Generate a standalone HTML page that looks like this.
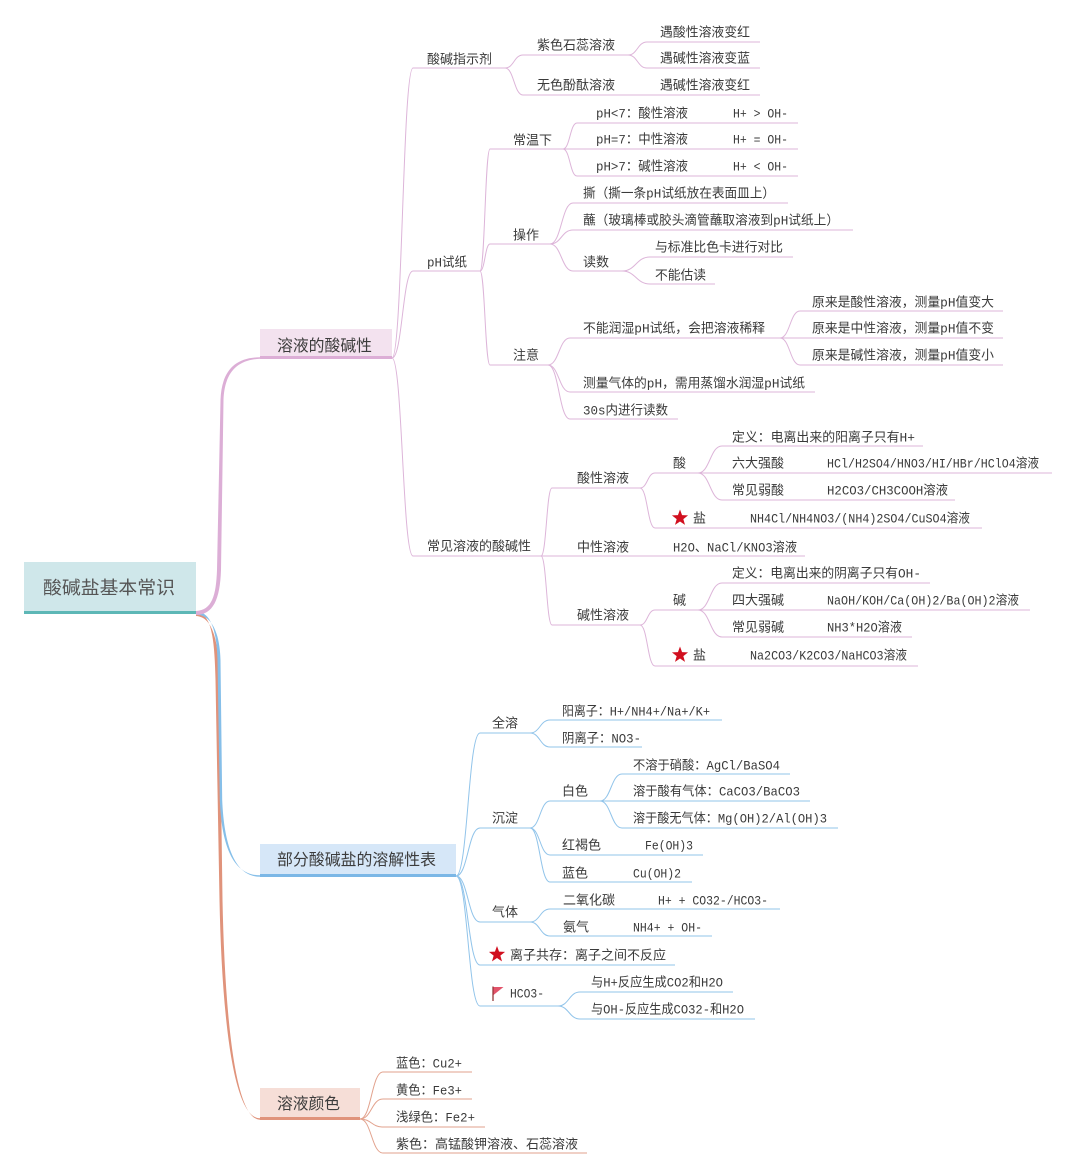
<!DOCTYPE html>
<html><head><meta charset="utf-8">
<style>
html,body{margin:0;padding:0;background:#fff;}
svg{display:block;}
text{font-family:"Liberation Mono","Noto Sans CJK SC",monospace;font-size:13px;fill:#3a3a3a;}
.bx{font-family:"Liberation Sans","Noto Sans CJK SC",sans-serif;font-size:16px;fill:#3c3c3c;}
.pk{stroke:#ddb5d9;stroke-width:1;fill:none;}
.bl{stroke:#91c4ea;stroke-width:1;fill:none;}
.or{stroke:#e2a28d;stroke-width:1;fill:none;}
</style></head>
<body>
<svg width="1073" height="1175" viewBox="0 0 1073 1175" xmlns="http://www.w3.org/2000/svg">
<rect width="1073" height="1175" fill="#fff"/>

<!-- root tapered connectors -->
<path d="M196,612 C212,613 214.5,640 215.5,680 L219.5,900 C221.5,1001 231,1118.3 260,1118.3 L260,1119.7 C233,1119.7 224.5,999 222.5,900 L219.5,680 C218.5,638 212,617 196,616 Z" fill="#e0937b"/>
<path d="M196,611.5 C211,612 216.5,630 217.5,660 L219.8,800 C221.8,851 235.5,875.3 260,875.3 L260,876.7 C236.5,876.8 224.2,849 222.2,800 L220.5,660 C219.5,629 210,615 196,614.5 Z" fill="#86bfe9"/>
<path d="M196,611 C212,610 216,596 217,570 L220.5,400 C221.5,371 235,357.3 260,357.3 L260,358.7 C236.5,360 224.5,373 223.5,400 L221,570 C220,600 213,614.5 196,615 Z" fill="#dcaed6"/>

<!-- root box -->
<rect x="24" y="562" width="172" height="50" fill="#cfe7ea"/>
<rect x="24" y="611" width="172" height="3" fill="#5db7b6"/>
<text x="43" y="594" style="font-size:18px;fill:#555;font-family:'Liberation Sans','Noto Sans CJK SC',sans-serif" textLength="132" lengthAdjust="spacingAndGlyphs">酸碱盐基本常识</text>

<!-- branch boxes -->
<rect x="260" y="329" width="132" height="28" fill="#f3e2ef"/>
<rect x="260" y="356" width="132" height="3" fill="#dcaed6"/>
<text class="bx" x="277" y="351" textLength="95" lengthAdjust="spacingAndGlyphs">溶液的酸碱性</text>

<rect x="260" y="844" width="196" height="31" fill="#d6e7f8"/>
<rect x="260" y="874" width="196" height="3" fill="#7bb7e6"/>
<text class="bx" x="277" y="865" textLength="159" lengthAdjust="spacingAndGlyphs">部分酸碱盐的溶解性表</text>

<rect x="260" y="1088" width="100" height="30" fill="#f6ded7"/>
<rect x="260" y="1117" width="100" height="3" fill="#e0937b"/>
<text class="bx" x="277" y="1109" textLength="63" lengthAdjust="spacingAndGlyphs">溶液颜色</text>

<!-- ============ PINK BRANCH ============ -->
<g class="pk">
<path d="M392 358 C402.5 358 402.5 68 413 68"/>
<path d="M392 358 C402.5 358 402.5 271 413 271"/>
<path d="M392 358 C402.5 358 402.5 556 413 556"/>
<path d="M505 68 C514 68 514 55 523 55"/>
<path d="M505 68 C514 68 514 95 523 95"/>
<path d="M628 55 C637.5 55 637.5 42 647 42"/>
<path d="M628 55 C637.5 55 637.5 68 647 68"/>
<path d="M480 271 C485 271 485 149 490 149"/>
<path d="M480 271 C485 271 485 244 490 244"/>
<path d="M480 271 C485 271 485 365 490 365"/>
<path d="M563 149 C570 149 570 123 577 123"/>
<path d="M563 149 C570 149 570 176 577 176"/>
<path d="M550 244 C561.5 244 561.5 203 573 203"/>
<path d="M550 244 C561.5 244 561.5 230 573 230"/>
<path d="M550 244 C561.5 244 561.5 271 573 271"/>
<path d="M622 271 C636 271 636 257 650 257"/>
<path d="M622 271 C636 271 636 284 650 284"/>
<path d="M548 365 C559 365 559 338 570 338"/>
<path d="M548 365 C559 365 559 392 570 392"/>
<path d="M548 365 C559 365 559 419 570 419"/>
<path d="M780 338 C790 338 790 311 800 311"/>
<path d="M780 338 C790 338 790 365 800 365"/>
<path d="M541 556 C546.5 556 546.5 488 552 488"/>
<path d="M541 556 C546.5 556 546.5 625 552 625"/>
<path d="M640 488 C647.5 488 647.5 473 655 473"/>
<path d="M640 488 C647.5 488 647.5 528 655 528"/>
<path d="M698 473 C710 473 710 446 722 446"/>
<path d="M698 473 C710 473 710 500 722 500"/>
<path d="M640 625 C647.5 625 647.5 610 655 610"/>
<path d="M640 625 C647.5 625 647.5 666 655 666"/>
<path d="M698 610 C710 610 710 583 722 583"/>
<path d="M698 610 C710 610 710 637 722 637"/>
<!-- underlines -->
<path d="M413 68H505 M523 55H628 M647 42H760 M647 68H760 M523 95H760
M413 271H480 M490 149H798 M577 123H798 M577 176H798 M490 244H550
M573 203H788 M573 230H853 M573 271H622 M650 257H793 M650 284H715
M490 365H548 M570 338H1003 M800 311H1003 M800 365H1003 M570 392H815 M570 419H678
M413 556H805 M552 488H640 M655 473H1052 M722 446H923 M722 500H955 M655 528H982
M552 625H640 M655 610H1030 M722 583H930 M722 637H912 M655 666H918"/>
</g>

<text x="427" y="63.5" textLength="65" lengthAdjust="spacingAndGlyphs">酸碱指示剂</text>
<text x="537" y="49.5" textLength="78" lengthAdjust="spacingAndGlyphs">紫色石蕊溶液</text>
<text x="660" y="36.5" textLength="90" lengthAdjust="spacingAndGlyphs">遇酸性溶液变红</text>
<text x="660" y="62.5" textLength="90" lengthAdjust="spacingAndGlyphs">遇碱性溶液变蓝</text>
<text x="537" y="89.5" textLength="78" lengthAdjust="spacingAndGlyphs">无色酚酞溶液</text>
<text x="660" y="89.5" textLength="90" lengthAdjust="spacingAndGlyphs">遇碱性溶液变红</text>

<text x="427" y="266.5" textLength="40" lengthAdjust="spacingAndGlyphs">pH试纸</text>
<text x="513" y="144.5" textLength="39" lengthAdjust="spacingAndGlyphs">常温下</text>
<text x="596" y="117.5" textLength="92" lengthAdjust="spacingAndGlyphs">pH&lt;7：酸性溶液</text>
<text x="733" y="117.5" textLength="55" lengthAdjust="spacingAndGlyphs">H+ &gt; OH-</text>
<text x="596" y="143.5" textLength="92" lengthAdjust="spacingAndGlyphs">pH=7：中性溶液</text>
<text x="733" y="143.5" textLength="55" lengthAdjust="spacingAndGlyphs">H+ = OH-</text>
<text x="596" y="170.5" textLength="92" lengthAdjust="spacingAndGlyphs">pH&gt;7：碱性溶液</text>
<text x="733" y="170.5" textLength="55" lengthAdjust="spacingAndGlyphs">H+ &lt; OH-</text>
<text x="513" y="239.5" textLength="26" lengthAdjust="spacingAndGlyphs">操作</text>
<text x="583" y="197.5" textLength="192" lengthAdjust="spacingAndGlyphs">撕（撕一条pH试纸放在表面皿上）</text>
<text x="583" y="224.5" textLength="256" lengthAdjust="spacingAndGlyphs">蘸（玻璃棒或胶头滴管蘸取溶液到pH试纸上）</text>
<text x="583" y="266.5" textLength="26" lengthAdjust="spacingAndGlyphs">读数</text>
<text x="655" y="251.5" textLength="128" lengthAdjust="spacingAndGlyphs">与标准比色卡进行对比</text>
<text x="655" y="279.5" textLength="51" lengthAdjust="spacingAndGlyphs">不能估读</text>
<text x="513" y="359.5" textLength="26" lengthAdjust="spacingAndGlyphs">注意</text>
<text x="583" y="332.5" textLength="182" lengthAdjust="spacingAndGlyphs">不能润湿pH试纸，会把溶液稀释</text>
<text x="812" y="306.5" textLength="182" lengthAdjust="spacingAndGlyphs">原来是酸性溶液，测量pH值变大</text>
<text x="812" y="332.5" textLength="182" lengthAdjust="spacingAndGlyphs">原来是中性溶液，测量pH值不变</text>
<text x="812" y="359.5" textLength="182" lengthAdjust="spacingAndGlyphs">原来是碱性溶液，测量pH值变小</text>
<text x="583" y="387.5" textLength="222" lengthAdjust="spacingAndGlyphs">测量气体的pH，需用蒸馏水润湿pH试纸</text>
<text x="583" y="414.5" textLength="85" lengthAdjust="spacingAndGlyphs">30s内进行读数</text>

<text x="427" y="550.5" textLength="104" lengthAdjust="spacingAndGlyphs">常见溶液的酸碱性</text>
<text x="577" y="482.5" textLength="52" lengthAdjust="spacingAndGlyphs">酸性溶液</text>
<text x="673" y="467.5" textLength="13" lengthAdjust="spacingAndGlyphs">酸</text>
<text x="732" y="441.5" textLength="183" lengthAdjust="spacingAndGlyphs">定义：电离出来的阳离子只有H+</text>
<text x="732" y="467.5" textLength="52" lengthAdjust="spacingAndGlyphs">六大强酸</text>
<text x="827" y="467.5" textLength="212" lengthAdjust="spacingAndGlyphs">HCl/H2SO4/HNO3/HI/HBr/HClO4溶液</text>
<text x="732" y="494.5" textLength="52" lengthAdjust="spacingAndGlyphs">常见弱酸</text>
<text x="827" y="494.5" textLength="121" lengthAdjust="spacingAndGlyphs">H2CO3/CH3COOH溶液</text>
<polygon transform="translate(680,518)" points="0,-8.5 2.06,-2.84 8.08,-2.63 3.34,1.08 5,6.88 0,3.5 -5,6.88 -3.34,1.08 -8.08,-2.63 -2.06,-2.84" fill="#d10f1f"/>
<text x="693" y="522.5" textLength="13" lengthAdjust="spacingAndGlyphs">盐</text>
<text x="750" y="522.5" textLength="220" lengthAdjust="spacingAndGlyphs">NH4Cl/NH4NO3/(NH4)2SO4/CuSO4溶液</text>
<text x="577" y="551.5" textLength="52" lengthAdjust="spacingAndGlyphs">中性溶液</text>
<text x="673" y="551.5" textLength="124" lengthAdjust="spacingAndGlyphs">H2O、NaCl/KNO3溶液</text>
<text x="577" y="619.5" textLength="52" lengthAdjust="spacingAndGlyphs">碱性溶液</text>
<text x="673" y="604.5" textLength="13" lengthAdjust="spacingAndGlyphs">碱</text>
<text x="732" y="577.5" textLength="189" lengthAdjust="spacingAndGlyphs">定义：电离出来的阴离子只有OH-</text>
<text x="732" y="604.5" textLength="52" lengthAdjust="spacingAndGlyphs">四大强碱</text>
<text x="827" y="604.5" textLength="192" lengthAdjust="spacingAndGlyphs">NaOH/KOH/Ca(OH)2/Ba(OH)2溶液</text>
<text x="732" y="631.5" textLength="52" lengthAdjust="spacingAndGlyphs">常见弱碱</text>
<text x="827" y="631.5" textLength="75" lengthAdjust="spacingAndGlyphs">NH3*H2O溶液</text>
<polygon transform="translate(680,655)" points="0,-8.5 2.06,-2.84 8.08,-2.63 3.34,1.08 5,6.88 0,3.5 -5,6.88 -3.34,1.08 -8.08,-2.63 -2.06,-2.84" fill="#d10f1f"/>
<text x="693" y="659.5" textLength="13" lengthAdjust="spacingAndGlyphs">盐</text>
<text x="750" y="659.5" textLength="157" lengthAdjust="spacingAndGlyphs">Na2CO3/K2CO3/NaHCO3溶液</text>

<!-- ============ BLUE BRANCH ============ -->
<g class="bl">
<path d="M456 876 C468 876 468 733 480 733"/>
<path d="M456 876 C468 876 468 828 480 828"/>
<path d="M456 876 C468 876 468 922 480 922"/>
<path d="M456 876 C468 876 468 965 480 965"/>
<path d="M456 876 C468 876 468 1006 480 1006"/>
<path d="M530 733 C540 733 540 720 550 720"/>
<path d="M530 733 C540 733 540 747 550 747"/>
<path d="M530 828 C540 828 540 801 550 801"/>
<path d="M530 828 C540 828 540 855 550 855"/>
<path d="M530 828 C540 828 540 882 550 882"/>
<path d="M600 801 C611 801 611 774 622 774"/>
<path d="M600 801 C611 801 611 828 622 828"/>
<path d="M530 922 C540 922 540 909 550 909"/>
<path d="M530 922 C540 922 540 936 550 936"/>
<path d="M558 1006 C569 1006 569 992 580 992"/>
<path d="M558 1006 C569 1006 569 1019 580 1019"/>
<path d="M480 733H530 M550 720H722 M550 747H642 M480 828H530 M550 801H810 M622 774H790 M622 828H838
M550 855H703 M550 882H692 M480 922H530 M550 909H780 M550 936H712 M480 965H675 M480 1006H558
M580 992H733 M580 1019H755"/>
</g>

<text x="492" y="727.5" textLength="26" lengthAdjust="spacingAndGlyphs">全溶</text>
<text x="562" y="715.5" textLength="148" lengthAdjust="spacingAndGlyphs">阳离子：H+/NH4+/Na+/K+</text>
<text x="562" y="742.5" textLength="79" lengthAdjust="spacingAndGlyphs">阴离子：NO3-</text>
<text x="492" y="822.5" textLength="26" lengthAdjust="spacingAndGlyphs">沉淀</text>
<text x="562" y="795.5" textLength="26" lengthAdjust="spacingAndGlyphs">白色</text>
<text x="633" y="769.5" textLength="147" lengthAdjust="spacingAndGlyphs">不溶于硝酸：AgCl/BaSO4</text>
<text x="633" y="795.5" textLength="167" lengthAdjust="spacingAndGlyphs">溶于酸有气体：CaCO3/BaCO3</text>
<text x="633" y="822.5" textLength="194" lengthAdjust="spacingAndGlyphs">溶于酸无气体：Mg(OH)2/Al(OH)3</text>
<text x="562" y="849.5" textLength="39" lengthAdjust="spacingAndGlyphs">红褐色</text>
<text x="645" y="849.5" textLength="48" lengthAdjust="spacingAndGlyphs">Fe(OH)3</text>
<text x="562" y="877.5" textLength="26" lengthAdjust="spacingAndGlyphs">蓝色</text>
<text x="633" y="877.5" textLength="48" lengthAdjust="spacingAndGlyphs">Cu(OH)2</text>
<text x="492" y="916.5" textLength="26" lengthAdjust="spacingAndGlyphs">气体</text>
<text x="563" y="904.5" textLength="52" lengthAdjust="spacingAndGlyphs">二氧化碳</text>
<text x="658" y="904.5" textLength="110" lengthAdjust="spacingAndGlyphs">H+ + CO32-/HCO3-</text>
<text x="563" y="931.5" textLength="26" lengthAdjust="spacingAndGlyphs">氨气</text>
<text x="633" y="931.5" textLength="69" lengthAdjust="spacingAndGlyphs">NH4+ + OH-</text>
<polygon transform="translate(497,954.5)" points="0,-8.5 2.06,-2.84 8.08,-2.63 3.34,1.08 5,6.88 0,3.5 -5,6.88 -3.34,1.08 -8.08,-2.63 -2.06,-2.84" fill="#d10f1f"/>
<text x="510" y="959.5" textLength="156" lengthAdjust="spacingAndGlyphs">离子共存：离子之间不反应</text>
<line x1="493" y1="986.5" x2="493" y2="1001" stroke="#8a2a2a" stroke-width="1.2"/>
<polygon points="493.5,987 503.5,987 493.5,995" fill="#e2536a"/>
<text x="510" y="997.5" textLength="34" lengthAdjust="spacingAndGlyphs">HCO3-</text>
<text x="591" y="986.5" textLength="132" lengthAdjust="spacingAndGlyphs">与H+反应生成CO2和H2O</text>
<text x="591" y="1013.5" textLength="153" lengthAdjust="spacingAndGlyphs">与OH-反应生成CO32-和H2O</text>

<!-- ============ ORANGE BRANCH ============ -->
<g class="or">
<path d="M360 1119 C371.5 1119 371.5 1072 383 1072"/>
<path d="M360 1119 C371.5 1119 371.5 1099 383 1099"/>
<path d="M360 1119 C371.5 1119 371.5 1127 383 1127"/>
<path d="M360 1119 C371.5 1119 371.5 1153 383 1153"/>
<path d="M383 1072H472 M383 1099H472 M383 1127H485 M383 1153H587"/>
</g>
<text x="396" y="1067.5" textLength="66" lengthAdjust="spacingAndGlyphs">蓝色：Cu2+</text>
<text x="396" y="1094.5" textLength="66" lengthAdjust="spacingAndGlyphs">黄色：Fe3+</text>
<text x="396" y="1121.5" textLength="79" lengthAdjust="spacingAndGlyphs">浅绿色：Fe2+</text>
<text x="396" y="1148.5" textLength="182" lengthAdjust="spacingAndGlyphs">紫色：高锰酸钾溶液、石蕊溶液</text>
</svg>
</body></html>
